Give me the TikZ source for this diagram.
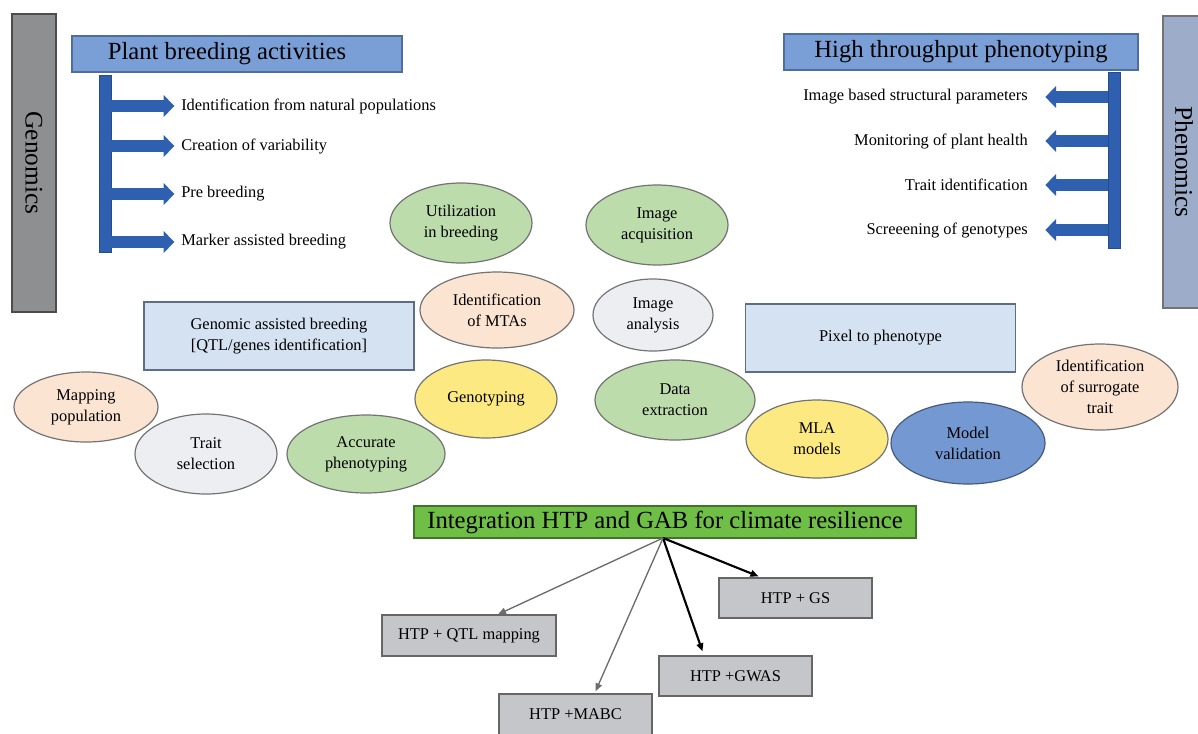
\documentclass[tikz,border=0pt]{standalone}
\usepackage{fontspec}
\setmainfont{Liberation Serif}
\usetikzlibrary{arrows.meta,shapes.geometric,calc}
\definecolor{titleblue}{HTML}{7A9FD7}
\definecolor{titleborder}{HTML}{4F6E9E}
\definecolor{barblue}{HTML}{2F5FAF}
\definecolor{genogray}{HTML}{8E8F90}
\definecolor{phenogray}{HTML}{9DADC9}
\definecolor{lightblue}{HTML}{D4E2F2}
\definecolor{lbborder}{HTML}{5D6E82}
\definecolor{peach}{HTML}{FCE4D3}
\definecolor{lgray}{HTML}{ECEEF2}
\definecolor{lgreen}{HTML}{BCDCAB}
\definecolor{yel}{HTML}{FDE981}
\definecolor{midblue}{HTML}{7398D2}
\definecolor{intgreen}{HTML}{6FBE45}
\definecolor{boxgray}{HTML}{C5C6C9}
\begin{document}
\begin{tikzpicture}[x=0.75pt,y=-0.75pt,
  base/.style={font=\fontsize{12.3}{15.8}\selectfont},
  title/.style={draw=titleborder,line width=1pt,fill=titleblue,font=\fontsize{18.5}{22}\selectfont,inner sep=0pt},
  side/.style={line width=1pt,font=\fontsize{19}{22}\selectfont,inner sep=0pt},
  bar/.style={draw=barblue!80!black,line width=0.6pt,fill=barblue,inner sep=0pt,minimum width=9pt},
  barrow/.style={draw=barblue,line width=8.5pt,-{Triangle[length=8pt,width=16pt]}},
  item/.style={base,inner sep=0pt},
  oval/.style={ellipse,draw=gray!90!black,line width=0.9pt,inner sep=0pt,align=center,base},
  panel/.style={draw=lbborder,line width=0.9pt,fill=lightblue,inner sep=0pt,align=center,base},
  htp/.style={draw=gray!80!black,line width=1pt,fill=boxgray,inner sep=0pt,minimum width=114.75pt,minimum height=30pt,base},
  thinarr/.style={draw=gray!85!black,line width=1pt,-{Triangle[length=6pt,width=5pt]}},
  thickarr/.style={draw=black,line width=1.6pt,-{Triangle[length=6pt,width=5pt]}}
]
\useasboundingbox (0,0) rectangle (1198,733);
\fill[white] (0,0) rectangle (1198,733);

% side bars
\node[side,draw=black!70,fill=genogray,minimum width=33pt,minimum height=223.5pt] (geno) at (34,163) {};
\node[side,rotate=-90] at (geno.center) {Genomics};
\node[side,draw=black!55,fill=phenogray,minimum width=36pt,minimum height=219pt] (pheno) at (1187,162) {};
\node[side,rotate=-90] at (1184,162) {Phenomics};

% titles
\node[title,minimum width=247.5pt,minimum height=27pt] (pba) at (237,54) {};
\node[font=\fontsize{18.5}{22}\selectfont,inner sep=0pt] at (227,54) {Plant breeding activities};
\node[title,minimum width=265.5pt,minimum height=27pt] (htpt) at (961,52) {High throughput phenotyping};

% left bar and arrows
\node[bar,minimum height=132.75pt] (lbar) at (105,163.5) {};
\node[item,anchor=west] (l1) at (181,106) {Identification from natural populations};
\node[item,anchor=west] (l2) at (181,146) {Creation of variability};
\node[item,anchor=west] (l3) at (181,194) {Pre breeding};
\node[item,anchor=west] (l4) at (181,242) {Marker assisted breeding};
\foreach \t in {l1,l2,l3,l4}
  \draw[barrow] (lbar.east |- \t.west) -- ([xshift=-5pt]\t.west);

% right bar and arrows
\node[bar,minimum height=132pt] (rbar) at (1114,160) {};
\node[item,anchor=east] (r1) at (1028,97) {Image based structural parameters};
\node[item,anchor=east] (r2) at (1028,141) {Monitoring of plant health};
\node[item,anchor=east] (r3) at (1028,185) {Trait identification};
\node[item,anchor=east] (r4) at (1028,230) {Screeening of genotypes};
\foreach \t in {r1,r2,r3,r4}
  \draw[barrow] (rbar.west |- \t.east) -- ([xshift=13pt]\t.east);

% panels
\node[panel,minimum width=202.5pt,minimum height=51pt] (gab) at (279,336) {Genomic assisted breeding\\{[}QTL/genes identification{]}};
\node[panel,minimum width=203pt,minimum height=51pt] (pix) at (880.5,338) {Pixel to phenotype};

% ovals
\node[oval,fill=lgreen,minimum width=106.5pt,minimum height=60pt] (util) at (461,223) {Utilization\\in breeding};
\node[oval,fill=lgreen,minimum width=106.5pt,minimum height=60pt] (acq) at (657,225) {Image\\acquisition};
\node[oval,fill=peach,minimum width=115.5pt,minimum height=57pt] (mta) at (497,310) {Identification\\of MTAs};
\node[oval,fill=lgray,minimum width=90pt,minimum height=54pt] (ana) at (653,315) {Image\\analysis};
\node[oval,fill=peach,minimum width=108pt,minimum height=52.5pt] (map) at (86,407) {Mapping\\population};
\node[oval,fill=lgray,minimum width=106.5pt,minimum height=60pt] (tsel) at (206,454) {Trait\\selection};
\node[oval,fill=lgreen,minimum width=118.5pt,minimum height=58.5pt] (acc) at (366,454) {Accurate\\phenotyping};
\node[oval,fill=yel,minimum width=106.5pt,minimum height=58.5pt] (geno2) at (486,399) {Genotyping};
\node[oval,fill=lgreen,minimum width=120pt,minimum height=60pt] (dex) at (675,400) {Data\\extraction};
\node[oval,fill=yel,minimum width=106.5pt,minimum height=58.5pt] (mla) at (817,439) {MLA\\models};
\node[oval,fill=midblue,draw=midblue!60!black,minimum width=115.5pt,minimum height=61.5pt] (mval) at (968,443) {Model\\validation};
\node[oval,fill=peach,minimum width=117pt,minimum height=64.5pt] (sur) at (1100,387) {Identification\\of surrogate\\trait};

% integration
\node[draw=intgreen!60!black,line width=1pt,fill=intgreen,inner sep=0pt,minimum width=376.5pt,minimum height=24pt,font=\fontsize{18.5}{22}\selectfont] (int) at (665,522) {Integration HTP and GAB for climate resilience};
\coordinate (src) at (663,538);

\node[htp] (gs) at (795.5,598) {HTP + GS};
\node[htp,minimum width=130.5pt,minimum height=30.75pt] (qtl) at (469,635.5) {HTP + QTL mapping};
\node[htp] (gwas) at (735.5,676) {HTP +GWAS};
\node[htp,minimum height=36pt] (mabc) at (575.5,718) {};
\node[base,inner sep=0pt] at (575.5,714) {HTP +MABC};

\draw[thickarr] (src) -- ($(gs.north)+(-37,-1)$);
\draw[thinarr] (src) -- ($(qtl.north)+(29,0)$);
\draw[thickarr] (src) -- ($(gwas.north)+(-33,-4)$);
\draw[thinarr] (src) -- ($(mabc.north)+(20,-2)$);
\end{tikzpicture}
\end{document}
